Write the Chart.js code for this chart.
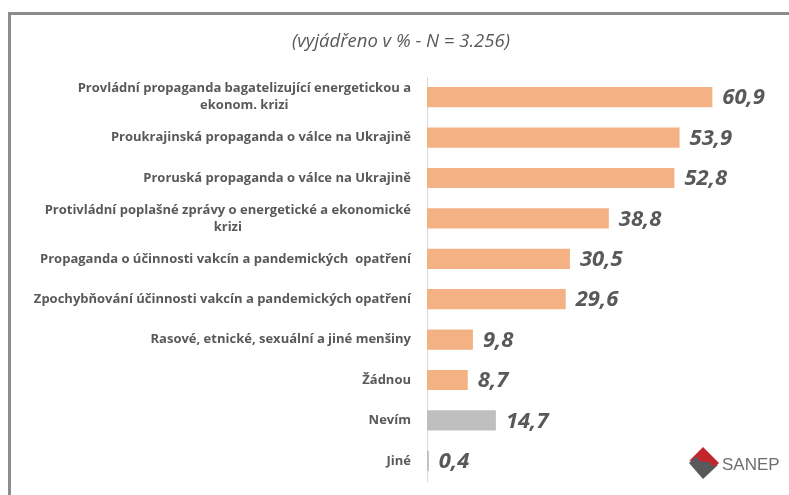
<!DOCTYPE html>
<html>
<head>
<meta charset="utf-8">
<script src="https://cdn.jsdelivr.net/npm/chart.js@4.4.1/dist/chart.umd.min.js"></script>
<style>
  html, body { margin: 0; padding: 0; background: #fff; }
  .wrap { position: relative; width: 789px; height: 495px; overflow: hidden; }
  .frame { position: absolute; left: 8px; top: 12px; width: 800px; height: 500px; border-left: 3px solid #8c8c8c; border-top: 3px solid #8c8c8c; box-sizing: border-box; }
  canvas { position: absolute; left: 0; top: 0; }
  .logo { position: absolute; left: 686px; top: 445px; }
</style>
</head>
<body>
<div class="wrap">
  <div class="frame"></div>
  <canvas id="chart" width="789" height="495"></canvas>
  <svg class="logo" width="100" height="38" viewBox="0 0 100 38">
    <path d="M17 2 L33 18 L26 25 C24 20 20 19 14 19 C10 19 9 17 11 15 L3 16 Z" fill="#c1272d"/>
    <path d="M3 18 L10 11 C12 16 16 17 21 17 C25 17 26 19 24 21 L32 20 L17 34 Z" fill="#58595b"/>
    <text x="36" y="25" font-family="Liberation Sans, Arial, sans-serif" font-size="17" fill="#6d6e71">SANEP</text>
  </svg>
</div>
<script>
const categories = [
    ['Provládní propaganda bagatelizující energetickou a', 'ekonom. krizi'],
    ['Proukrajinská propaganda o válce na Ukrajině'],
    ['Proruská propaganda o válce na Ukrajině'],
    ['Protivládní poplašné zprávy o energetické a ekonomické', 'krizi'],
    ['Propaganda o účinnosti vakcín a pandemických  opatření'],
    ['Zpochybňování účinnosti vakcín a pandemických opatření'],
    ['Rasové, etnické, sexuální a jiné menšiny'],
    ['Žádnou'],
    ['Nevím'],
    ['Jiné']
];
const values = [60.9, 53.9, 52.8, 38.8, 30.5, 29.6, 9.8, 8.7, 14.7, 0.4];
const barColors = ['#f4b183', '#f4b183', '#f4b183', '#f4b183', '#f4b183', '#f4b183', '#f4b183', '#f4b183', '#bfbfbf', '#bfbfbf'];
const titleText = '(vyjádřeno v % - N = 3.256)';

const textGray = '#595959';

// title sits a bit right of the canvas centre, so it is drawn here
const subTitle = {
    id: 'subTitle',
    afterDraw(chart) {
        const ctx = chart.ctx;
        ctx.save();
        ctx.font = 'italic 18.5px "Open Sans"';
        ctx.fillStyle = textGray;
        ctx.textAlign = 'center';
        ctx.textBaseline = 'middle';
        ctx.fillText(titleText, 401, 42);
        ctx.restore();
    }
};

// category labels: block right aligned, lines centered inside the block
const categoryLabels = {
    id: 'categoryLabels',
    afterDraw(chart) {
        const ctx = chart.ctx;
        const yScale = chart.scales.y;
        const right = chart.chartArea.left - 16;
        ctx.save();
        ctx.font = 'bold 13px "Open Sans"';
        ctx.fillStyle = textGray;
        ctx.textAlign = 'center';
        ctx.textBaseline = 'middle';
        categories.forEach((lines, i) => {
            const y = yScale.getPixelForTick(i);
            const widest = Math.max(...lines.map(l => ctx.measureText(l).width));
            const cx = right - widest / 2;
            const lh = 17;
            lines.forEach((l, j) => {
                ctx.fillText(l, cx, y - (lines.length - 1) * lh / 2 + j * lh);
            });
        });
        ctx.restore();
    }
};

const valueLabels = {
    id: 'valueLabels',
    afterDatasetsDraw(chart) {
        const ctx = chart.ctx;
        const meta = chart.getDatasetMeta(0);
        ctx.save();
        ctx.font = 'italic bold 22px "Open Sans"';
        ctx.fillStyle = textGray;
        ctx.textAlign = 'left';
        ctx.textBaseline = 'middle';
        meta.data.forEach((bar, i) => {
            ctx.fillText(values[i].toFixed(1).replace('.', ','), bar.x + 10, bar.y + 1);
        });
        ctx.restore();
    }
};

new Chart(document.getElementById('chart').getContext('2d'), {
    type: 'bar',
    data: {
        labels: categories,
        datasets: [{
            data: values,
            backgroundColor: barColors,
            categoryPercentage: 1,
            barPercentage: 0.5
        }]
    },
    options: {
        indexAxis: 'y',
        responsive: false,
        animation: false,
        events: [],
        layout: { padding: { left: 10, right: 34, top: 77, bottom: 14 } },
        scales: {
            x: {
                display: false,
                min: 0,
                max: 70
            },
            y: {
                grid: { display: false },
                border: { display: true, color: '#d9d9d9', width: 1 },
                ticks: { display: false },
                afterFit(scale) { scale.width = 417; }
            }
        },
        plugins: {
            legend: { display: false },
            tooltip: { enabled: false },
            title: { display: false }
        }
    },
    plugins: [subTitle, categoryLabels, valueLabels]
});
</script>
</body>
</html>
